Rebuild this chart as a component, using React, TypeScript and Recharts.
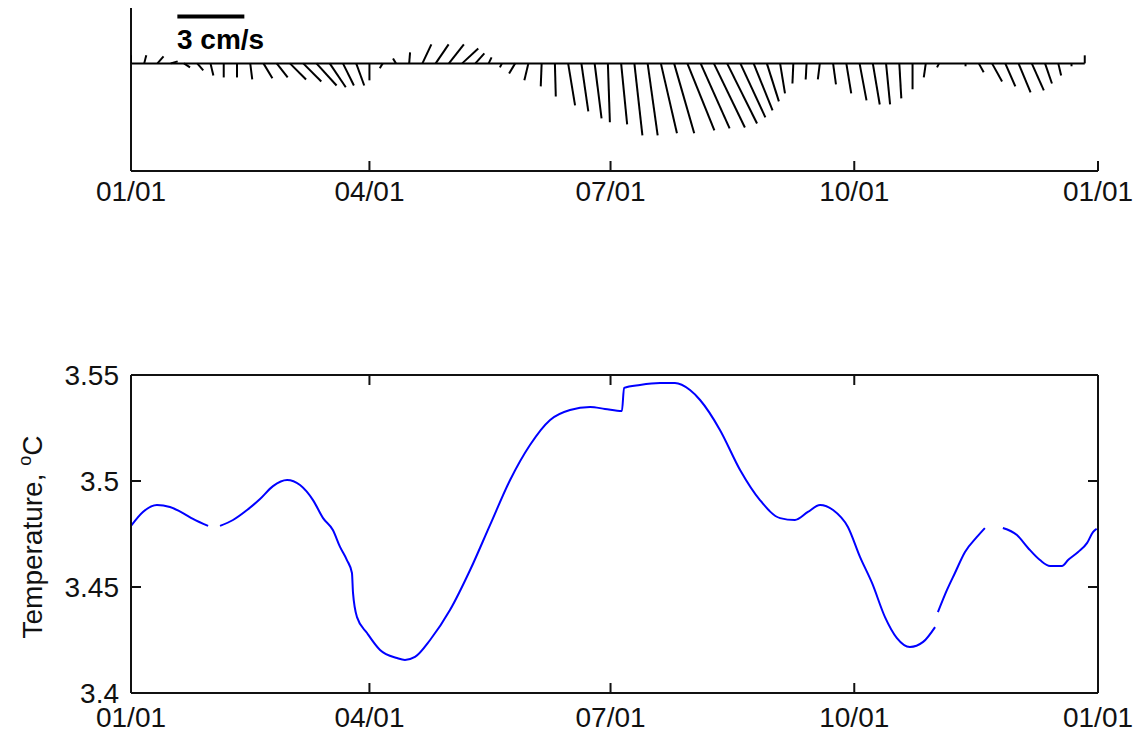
import React from "react";
import { ComposedChart, LineChart, Line, Scatter, XAxis, YAxis, ReferenceLine } from "recharts";

// x axis: day of year, labelled at the first of each quarter
const TICK_DAYS = [0, 90, 181, 273, 365];
const TICK_LABELS = ["01/01", "04/01", "07/01", "10/01", "01/01"];

// current sticks, one every 5 days (east / north components, cm/s)
const STICK_DAYS = [
  0, 5, 10, 15, 20, 25, 30, 35, 40, 45, 50, 55, 60, 65, 70, 75, 80, 85, 90, 95,
  100, 105, 110, 115, 120, 125, 130, 135, 140, 145, 150, 155, 160, 165, 170, 175, 180, 185, 190, 195,
  200, 205, 210, 215, 220, 225, 230, 235, 240, 245, 250, 255, 260, 265, 270, 275, 280, 285, 290, 295,
  300, 305, 310, 315, 320, 325, 330, 335, 340, 345, 350, 355, 360,
];
const STICK_U = [
  0, 0.09, 0.27, 0.31, 0.27, 0.27, 0.13, 0, 0, 0.09, 0.4, 0.49, 0.72, 0.81, 0.9, 0.72, 0.49, 0.36, 0, -0.13,
  -0.13, 0.04, 0.4, 0.58, 0.67, 0.72, 0.4, 0.13, -0.09, -0.27, -0.18, -0.04, 0.04, 0.31, 0.31, 0.31, 0.09, 0.27, 0.36, 0.45,
  0.72, 0.9, 1.21, 1.3, 1.39, 1.34, 1.12, 0.85, 0.54, 0.22, -0.04, -0.04, -0.09, 0.13, 0.22, 0.31, 0.31, 0.18, 0.09, 0,
  -0.09, -0.09, 0, 0, 0.22, 0.45, 0.45, 0.54, 0.54, 0.31, 0.13, 0, 0,
];
const STICK_V = [
  0.36, 0.36, 0.31, 0.09, -0.18, -0.31, -0.54, -0.63, -0.63, -0.72, -0.67, -0.63, -0.72, -0.81, -0.99, -1.07, -0.99, -0.99, -0.76, -0.22,
  0.22, 0.49, 0.85, 0.85, 0.85, 0.67, 0.45, 0.27, -0.18, -0.45, -0.76, -1.03, -1.48, -1.88, -2.15, -2.46, -2.64, -2.73, -3.22, -3.22,
  -3.13, -3.13, -3.0, -2.91, -2.87, -2.69, -2.42, -2.1, -1.7, -1.34, -0.9, -0.72, -0.72, -0.94, -1.34, -1.66, -1.84, -1.84, -1.57, -1.16,
  -0.63, -0.18, -0.02, -0.13, -0.4, -0.81, -1.03, -1.3, -1.21, -0.9, -0.54, -0.13, 0.36,
];
const SCALE_SPEED = 3; // cm/s shown by the scale bar

// temperature record, null = gap in the record
const TEMP_DAYS = [
  0, 4.5, 9.8, 14.7, 19.6, 23.4, 29.1, 31, 33.6, 38.5, 43.8, 48.7, 53.6, 58.9, 63.8, 68.7, 72.5, 76.2, 78.9, 81.5,
  83.4, 83.8, 85.3, 89.1, 94, 100.4, 103.4, 107.2, 112.9, 120.4, 128, 135.5, 143.1, 150.6, 158.2, 165.7, 173.3, 178.9, 185.3, 186.1,
  192.1, 199.7, 205.3, 211, 214.8, 222.3, 229.9, 237.4, 245, 250.6, 255.5, 260.1, 265, 270.6, 275.2, 279.7, 284.6, 289.1, 294, 299,
  303.5, 304, 304.6, 308, 311, 314.8, 319.3, 322.3, 325, 329.1, 334.4, 338.6, 343.1, 346.9, 351.4, 353.7, 357.5, 360.9, 363.1, 364.5,
];
const TEMP_VALUES: (number | null)[] = [
  3.4788, 3.4854, 3.4887, 3.4877, 3.4849, 3.4821, 3.4788, null, 3.4788, 3.4816, 3.4863, 3.4915, 3.4976, 3.5005, 3.4981, 3.491, 3.4825, 3.4769, 3.4689, 3.4627,
  3.4566, 3.4472, 3.4358, 3.4283, 3.4203, 3.4165, 3.4156, 3.417, 3.425, 3.4391, 3.458, 3.4792, 3.5005, 3.517, 3.5288, 3.5335, 3.5349, 3.534, 3.533, 3.5439,
  3.5453, 3.5462, 3.5462, 3.5429, 3.5382, 3.5241, 3.5052, 3.491, 3.4825, 3.4816, 3.4854, 3.4887, 3.4863, 3.4783, 3.4641, 3.4519, 3.4358, 3.4259, 3.4217, 3.4241,
  3.4311, null, 3.4382, 3.4486, 3.4566, 3.4665, 3.4736, 3.4778, null, 3.4778, 3.4745, 3.4684, 3.4627, 3.4599, 3.4599, 3.4627, 3.4665, 3.4708, 3.4759, 3.4775,
];
const TEMP_TICKS = [3.4, 3.45, 3.5, 3.55];

const FONT = '"Liberation Sans", Arial, Helvetica, sans-serif';
const AXIS = "#111";
const FS = 28;

// geometry shared by both panels
const W = 1134;
const PLOT_W = 967;
const TOP_H = 163;
const V_DOMAIN: [number, number] = [-4.82, 2.48];
const PX_PER_CMS = TOP_H / (V_DOMAIN[1] - V_DOMAIN[0]);
const PX_PER_DAY = PLOT_W / 365;
const DAYS_PER_CMS = PX_PER_CMS / PX_PER_DAY;

const stickRows = STICK_DAYS.map((d, i) => ({ day: d, base: 0, u: STICK_U[i], v: STICK_V[i] }));
const tempRows = TEMP_DAYS.map((d, i) => ({ day: d, temp: TEMP_VALUES[i] }));

const dateLabel = (v: number) => {
  const i = TICK_DAYS.indexOf(v);
  return i >= 0 ? TICK_LABELS[i] : "";
};

// inward ticks, MATLAB style
const bottomTick = (labelDy: number) => (p: any) => (
  <g>
    <line x1={p.x} x2={p.x} y1={p.y} y2={p.y - 10} stroke={AXIS} strokeWidth={2} />
    <text x={p.x} y={p.y + labelDy} textAnchor="middle" fontSize={FS} fontFamily={FONT} fill="#111">
      {dateLabel(p.payload.value)}
    </text>
  </g>
);
const topTick = (p: any) => <line x1={p.x} x2={p.x} y1={p.y} y2={p.y + 10} stroke={AXIS} strokeWidth={2} />;
const leftTick = (p: any) => (
  <g>
    <line x1={p.x} x2={p.x + 10} y1={p.y} y2={p.y} stroke={AXIS} strokeWidth={2} />
    <text x={p.x - 12} y={p.y + 10} textAnchor="end" fontSize={FS} fontFamily={FONT} fill="#111">
      {String(p.payload.value)}
    </text>
  </g>
);
const rightTick = (p: any) => <line x1={p.x} x2={p.x - 10} y1={p.y} y2={p.y} stroke={AXIS} strokeWidth={2} />;

const Stick = (p: any) => {
  const { cx, cy, payload } = p;
  return (
    <line
      x1={cx}
      y1={cy}
      x2={cx + payload.u * PX_PER_CMS}
      y2={cy - payload.v * PX_PER_CMS}
      stroke="#000"
      strokeWidth={2}
    />
  );
};

const axisLine = { stroke: AXIS, strokeWidth: 2 };

export default function App() {
  return (
    <div style={{ position: "absolute", left: 0, top: 0, width: W, height: 736, background: "#fff" }}>
      <div style={{ position: "absolute", left: 0, top: 0 }}>
        <ComposedChart width={W} height={215} margin={{ top: 8, right: 36, bottom: 14, left: 71 }}>
          <XAxis
            type="number"
            dataKey="day"
            domain={[0, 365]}
            ticks={TICK_DAYS}
            interval={0}
            allowDataOverflow
            height={30}
            tickSize={0}
            tickMargin={0}
            tickLine={false}
            axisLine={axisLine}
            tick={bottomTick(30)}
          />
          <YAxis
            type="number"
            dataKey="base"
            domain={V_DOMAIN}
            ticks={[0]}
            allowDataOverflow
            width={60}
            tick={false}
            tickLine={false}
            axisLine={axisLine}
          />
          <ReferenceLine
            segment={[{ x: STICK_DAYS[0], y: 0 }, { x: STICK_DAYS[STICK_DAYS.length - 1], y: 0 }]}
            stroke="#000"
            strokeWidth={2}
            ifOverflow="visible"
          />
          <ReferenceLine
            segment={[{ x: 17.5, y: 2.1 }, { x: 17.5 + SCALE_SPEED * DAYS_PER_CMS, y: 2.1 }]}
            stroke="#000"
            strokeWidth={4}
            ifOverflow="visible"
          />
          <Scatter data={stickRows} dataKey="base" shape={Stick} isAnimationActive={false} />
        </ComposedChart>
      </div>

      <div style={{ position: "absolute", left: 0, top: 300 }}>
        <LineChart width={W} height={450} data={tempRows} margin={{ top: 65, right: 26, bottom: 27, left: 71 }}>
          <XAxis
            xAxisId="b"
            type="number"
            dataKey="day"
            domain={[0, 365]}
            ticks={TICK_DAYS}
            interval={0}
            allowDataOverflow
            height={30}
            tickSize={0}
            tickMargin={0}
            tickLine={false}
            axisLine={axisLine}
            tick={bottomTick(34)}
          />
          <XAxis
            xAxisId="t"
            orientation="top"
            type="number"
            dataKey="day"
            domain={[0, 365]}
            ticks={TICK_DAYS}
            interval={0}
            allowDataOverflow
            height={10}
            tickSize={0}
            tickMargin={0}
            tickLine={false}
            axisLine={axisLine}
            tick={topTick}
          />
          <YAxis
            yAxisId="l"
            type="number"
            domain={[3.4, 3.55]}
            ticks={TEMP_TICKS}
            interval={0}
            allowDataOverflow
            width={60}
            tickSize={0}
            tickMargin={0}
            tickLine={false}
            axisLine={axisLine}
            tick={leftTick}
          />
          <YAxis
            yAxisId="r"
            orientation="right"
            type="number"
            domain={[3.4, 3.55]}
            ticks={TEMP_TICKS}
            interval={0}
            allowDataOverflow
            width={10}
            tickSize={0}
            tickMargin={0}
            tickLine={false}
            axisLine={axisLine}
            tick={rightTick}
          />
          <Line
            xAxisId="b"
            yAxisId="l"
            type="monotone"
            dataKey="temp"
            stroke="#0000ff"
            strokeWidth={2}
            dot={false}
            connectNulls={false}
            isAnimationActive={false}
          />
        </LineChart>
      </div>

      <svg width={W} height={736} style={{ position: "absolute", left: 0, top: 0, pointerEvents: "none" }}>
        <text x={177} y={49} fontSize={FS} fontWeight="bold" fontFamily={FONT} fill="#000">
          3 cm/s
        </text>
        <text
          transform="translate(42,537) rotate(-90)"
          textAnchor="middle"
          fontSize={FS}
          fontFamily={FONT}
          fill="#111"
        >
          Temperature,{" "}
          <tspan fontSize={18} dy={-11}>
            o
          </tspan>
          <tspan dy={11}>C</tspan>
        </text>
      </svg>
    </div>
  );
}
